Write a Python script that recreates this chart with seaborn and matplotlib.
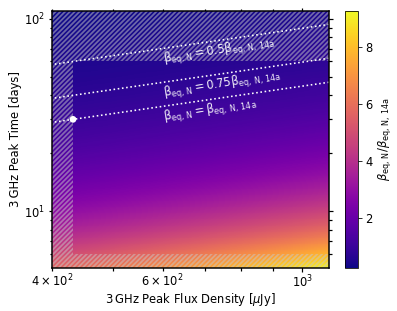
import numpy as np
import seaborn as sns
import matplotlib.pyplot as plt
from matplotlib.patches import Rectangle

# reference event (14a) and the scaling beta ~ F^(9/19) / t
ref_flux = 432.0      # uJy
ref_time = 30.0       # days
flux_index = 9 / 19

# axis ranges and the region where the grid is valid
flux_range = [400, 1104]
time_range = [5.05, 110]
valid_flux = [432, 1104]
valid_time = [6.0, 60.0]

levels = [0.5, 0.75, 1.0]
level_labels = [r"$\mathrm{\beta_{eq,\,N} = 0.5\beta_{eq,\,N,\,14a}}$",
                r"$\mathrm{\beta_{eq,\,N} = 0.75\beta_{eq,\,N,\,14a}}$",
                r"$\mathrm{\beta_{eq,\,N} = \beta_{eq,\,N,\,14a}}$"]
label_flux = [600, 600, 600]
label_time = [68.0, 45.3, 34.0]

sns.set_style("ticks")
plt.rcParams["font.family"] = ["DejaVu Sans"]
plt.rcParams["font.size"] = 11.5
plt.rcParams["hatch.linewidth"] = 1.8
for k in ["text.color", "axes.labelcolor", "xtick.color", "ytick.color", "axes.edgecolor"]:
    plt.rcParams[k] = "black"

fig = plt.figure(figsize=(397 / 72, 311 / 72), dpi=72)
ax = fig.add_axes([0.131, 0.138, 0.698, 0.827])
cax = fig.add_axes([0.869, 0.138, 0.033, 0.827])

F = np.logspace(np.log10(flux_range[0]), np.log10(flux_range[1]), 300)
T = np.logspace(np.log10(time_range[0]), np.log10(time_range[1]), 300)
FF, TT = np.meshgrid(F, T)
ratio = (FF / ref_flux) ** flux_index * ref_time / TT

mesh = ax.pcolormesh(FF, TT, ratio, cmap="plasma", shading="auto", rasterized=True)

# hatch the parts outside the valid box
hatch_kw = dict(facecolor="none", edgecolor="#c8c8c8", hatch="/////", linewidth=0, alpha=0.5)
ax.add_patch(Rectangle((flux_range[0], time_range[0]), valid_flux[0] - flux_range[0],
                       time_range[1] - time_range[0], **hatch_kw))
ax.add_patch(Rectangle((valid_flux[0], valid_time[1]), flux_range[1] - valid_flux[0],
                       time_range[1] - valid_time[1], **hatch_kw))
ax.add_patch(Rectangle((valid_flux[0], time_range[0]), flux_range[1] - valid_flux[0],
                       valid_time[0] - time_range[0], **hatch_kw))

ax.contour(FF, TT, ratio, levels=levels, colors="white", linestyles=":", linewidths=1.6)
for lab, fx, ty in zip(level_labels, label_flux, label_time):
    ax.text(fx, ty, lab, color="white", fontsize=11.5, rotation=9, ha="left", va="top",
            rotation_mode="anchor", alpha=0.92)

sns.scatterplot(x=[ref_flux], y=[ref_time], ax=ax, color="white", s=45, edgecolor="none",
                zorder=5, clip_on=False)

ax.set_xscale("log")
ax.set_yscale("log")
ax.set_xlim(flux_range)
ax.set_ylim(time_range)
ax.set_xlabel("3\u2009GHz Peak Flux Density [$\\mu$Jy]", labelpad=1)
ax.set_ylabel("3\u2009GHz Peak Time [days]", labelpad=2)
ax.tick_params(which="both", direction="inout", top=True, right=True, width=1.2)
ax.tick_params(which="major", length=7)
ax.tick_params(which="minor", length=5)
ax.tick_params(axis="x", which="both", pad=2)
for s in ax.spines.values():
    s.set_linewidth(1.5)

cb = fig.colorbar(mesh, cax=cax)
cb.set_label(r"$\beta_{\rm eq,\,N}/\beta_{\rm eq,\,N,\,14a}$")
cb.set_ticks([2, 4, 6, 8])

fig.savefig("out.png", dpi=72)
